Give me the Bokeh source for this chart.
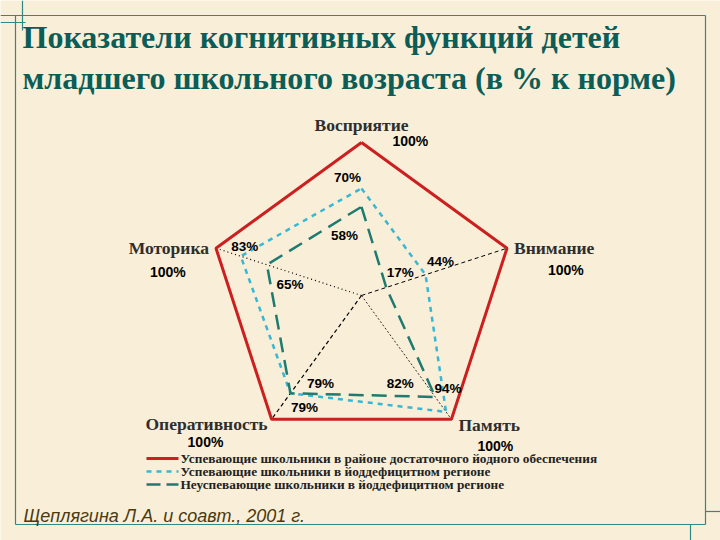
import numpy as np
from bokeh.plotting import figure
from bokeh.models import Range1d
from bokeh.core.properties import value
from bokeh.embed import file_html
from bokeh.resources import INLINE

# ---------------- data ----------------
title_lines = ["Показатели когнитивных функций детей",
               "младшего школьного возраста (в % к норме)"]
categories = ["Восприятие", "Внимание", "Память", "Оперативность", "Моторика"]
norm_values = [100, 100, 100, 100, 100]
cyan_values = [70, 44, 94, 79, 83]
teal_values = [58, 17, 82, 79, 65]
series_names = ["Успевающие школьники в районе достаточного йодного обеспечения",
                "Успевающие школьники в йоддефицитном регионе",
                "Неуспевающие школьники в йоддефицитном регионе"]
source_text = "Щеплягина Л.А. и соавт., 2001 г."

# ---------------- layout ----------------
W, H = 720, 540
BG = "#f9eed8"
FRAME = "#2f8a86"
TITLE_C = "#0b5d58"
RED = "#cc1f1f"
CYAN = "#35b8d4"
TEAL = "#1f7a70"


def P(x, y):
    """image pixel -> data coords"""
    return x, H - y


CX, CY = P(361, 295)
R = 153.0
angles = np.deg2rad([90, 18, -54, -126, 162])


def radar_xy(vals):
    v = np.asarray(vals, dtype=float) / 100.0 * R
    return CX + v * np.cos(angles), CY + v * np.sin(angles)


p = figure(width=W, height=H, output_backend="svg", toolbar_location=None,
           x_range=Range1d(0, W), y_range=Range1d(0, H), min_border=0)
p.axis.visible = False
p.grid.visible = False
p.outline_line_color = None
p.background_fill_color = BG
p.border_fill_color = BG

# ---- decorative frame ----
segs = [((15, 15), (15, 524)), ((705, 15), (705, 524)),
        ((0, 15), (705, 15)), ((15, 524), (705, 524)),
        ((0, 22), (25, 22)), ((22, 0), (22, 30)),
        ((705, 511), (720, 511)), ((690, 524), (690, 540))]
fx = [[P(*a)[0], P(*b)[0]] for a, b in segs]
fy = [[P(*a)[1], P(*b)[1]] for a, b in segs]
p.multi_line(fx, fy, line_color=FRAME, line_width=1.2)

# ---- title ----
tx = [P(22, 0)[0]] * 2
ty = [P(0, 36)[1], P(0, 77)[1]]
p.text(tx, ty, text=title_lines, text_font=value("Liberation Serif"),
       text_font_style="bold", text_font_size="32px", text_color=TITLE_C,
       text_baseline="middle", text_align="left")

# ---- axis spokes (center -> vertex) ----
vx, vy = radar_xy(norm_values)
spoke_styles = {1: ("4 3", 1.0), 2: ("2 2", 0.8), 3: ("4 3", 1.2), 4: ("1 3", 1.2)}
for i, (dash, lw) in spoke_styles.items():
    p.line([CX, vx[i]], [CY, vy[i]], line_color="black", line_dash=dash, line_width=lw)

# ---- series polygons ----
def closed(vals):
    x, y = radar_xy(vals)
    return list(x) + [x[0]], list(y) + [y[0]]

x, y = closed(norm_values)
p.line(x, y, line_color=RED, line_width=3)
x, y = closed(cyan_values)
p.line(x, y, line_color=CYAN, line_width=2.5, line_dash="5 5")
x, y = closed(teal_values)
p.line(x, y, line_color=TEAL, line_width=2.5, line_dash="15 8")

# ---- category labels ----
cat_off = [(0, -18, "center"), (7, 0, "left"), (7, 6, "left"), (-4, 5, "right"), (-7, 0, "right")]
full_off = [(31, -2), (41, 22), (26, 27), (-84, 23), (-66, 24)]
for i, c in enumerate(categories):
    dx, dy, al = cat_off[i]
    p.text([vx[i] + dx], [vy[i] - dy], text=[c], text_font=value("Liberation Serif"),
           text_font_style="bold", text_font_size="17.5px", text_color="#2e2e2e",
           text_baseline="middle", text_align=al)
    dx, dy = full_off[i]
    p.text([vx[i] + dx], [vy[i] - dy], text=[f"{norm_values[i]}%"],
           text_font=value("Liberation Sans"), text_font_style="bold",
           text_font_size="14px", text_color="black", text_baseline="middle",
           text_align="left")

# ---- value labels ----
cyan_off = [(-14, -11), (15, -13), (2, -23), (14, 14), (4, -10)]
teal_off = [(-17, 29), (14, -15), (-35, -13), (30, -10), (23, 20)]
for vals, offs in ((cyan_values, cyan_off), (teal_values, teal_off)):
    px, py = radar_xy(vals)
    lx = [px[i] + offs[i][0] for i in range(5)]
    ly = [py[i] - offs[i][1] for i in range(5)]
    p.text(lx, ly, text=[f"{v}%" for v in vals], text_font=value("Liberation Sans"),
           text_font_style="bold", text_font_size="13.5px", text_color="black",
           text_baseline="middle", text_align="center")

# ---- legend ----
leg_y = [458, 471, 484]
leg_style = [(RED, None, 3), (CYAN, "5 5", 2.5), (TEAL, "14 6", 2.5)]
for k, (col, dash, lw) in enumerate(leg_style):
    x0, yy = P(146, leg_y[k])
    x1, _ = P(178, leg_y[k])
    kw = dict(line_color=col, line_width=lw)
    if dash:
        kw["line_dash"] = dash
    p.line([x0, x1], [yy, yy], **kw)
    p.text([P(180, 0)[0]], [yy], text=[series_names[k]], text_font=value("Liberation Serif"),
           text_font_style="bold", text_font_size="13.3px", text_color="#222222",
           text_baseline="middle", text_align="left")

# ---- source ----
sx, sy = P(23, 515)
p.text([sx], [sy], text=[source_text], text_font=value("Liberation Sans"),
       text_font_style="italic", text_font_size="18px", text_color="#4a3a10",
       text_baseline="middle", text_align="left")

open("out.html", "w").write(file_html(p, INLINE))
